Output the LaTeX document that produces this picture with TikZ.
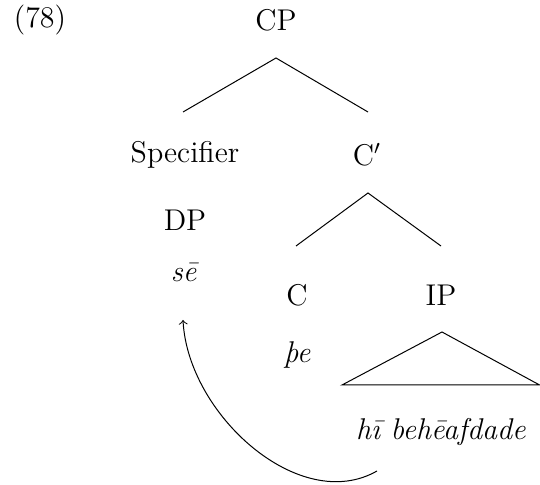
\documentclass[12pt,tikz,border=0pt]{standalone}
\usepackage{fontspec}

\begin{document}
\begin{tikzpicture}[x=0.4pt, y=-0.4pt, line width=0.4pt]

    \useasboundingbox (0,0) rectangle (540,485);

    % 1. Beschriftungen der Knoten
    \node (ex)   at (40,20)   {(78)};
    \node (CP)   at (276,20)  {CP};
    \node (Spec) at (185,155) {Specifier};
    \node (Cbar) at (367,155) {C$'$};
    \node (DP)   at (185,220) {DP};
    \node (se)   at (185,272) {\textit{s\=e}};
    \node (C)    at (297,295) {C};
    \node (IP)   at (441,295) {IP};
    \node (the)  at (297,355) {\textit{þe}};
    \node (hi)   at (441,432) {\textit{h\=\i{} beh\=eafdade}};

    % 2. Verzweigungspunkte
    \coordinate (CPtop)   at (276,58);
    \coordinate (CPl)     at (183,112);
    \coordinate (CPr)     at (368,112);
    \coordinate (Cbartop) at (368,193);
    \coordinate (Cbarl)   at (296,246);
    \coordinate (Cbarr)   at (441,246);
    \coordinate (IPtop)   at (442,332);
    \coordinate (IPl)     at (342,385);
    \coordinate (IPr)     at (539.6,385);

    % 3. Äste und Dreieck
    \draw (CPl) -- (CPtop) -- (CPr);
    \draw (Cbarl) -- (Cbartop) -- (Cbarr);
    \draw (IPtop) -- (IPl) -- (IPr) -- cycle;

    % 4. Bewegungspfeil (Topikalisierung)
    \coordinate (mvstart) at (377,471);
    \coordinate (mvend)   at (183,320);
    \draw[->] (mvstart) .. controls (300,515) and (188,415) .. (mvend);

\end{tikzpicture}
\end{document}
